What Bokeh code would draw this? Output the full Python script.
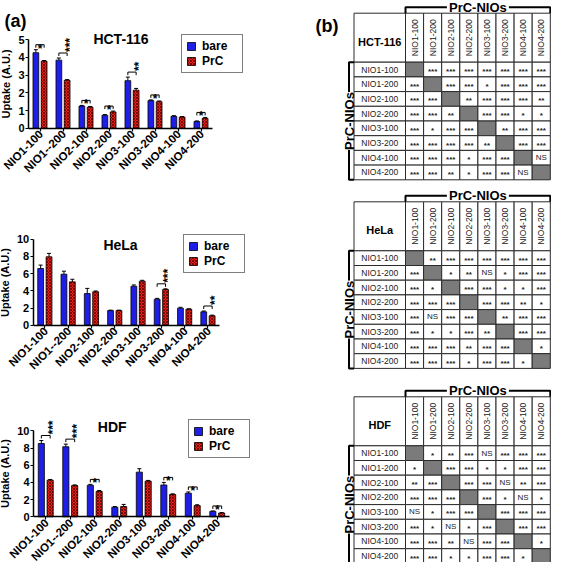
import math
from bokeh.plotting import figure
from bokeh.layouts import row, column
from bokeh.models import (Range1d, FixedTicker, ColumnDataSource, Whisker, LinearAxis,
                          TeeHead, Label, Legend, LegendItem, CustomJSTickFormatter)
from bokeh.transform import dodge
from bokeh.core.properties import value
from bokeh.embed import file_html
from bokeh.resources import INLINE

FONT = "Liberation Sans"
BLUE = "#1e1ee6"
RED = "#e32219"

# ---------------- data ----------------
groups = ["NIO1-100", "NIO1-200", "NIO2-100", "NIO2-200",
          "NIO3-100", "NIO3-200", "NIO4-100", "NIO4-200"]
bar_labels = ["NIO1-100", "NIO1--200", "NIO2-100", "NIO2-200",
              "NIO3-100", "NIO3-200", "NIO4-100", "NIO4-200"]
series_names = ["bare", "PrC"]

hct_bare = [4.27, 3.85, 1.25, 0.73, 2.69, 1.56, 0.67, 0.38]
hct_prc = [3.79, 2.71, 1.19, 0.92, 2.15, 1.50, 0.63, 0.56]
hct_bare_err = [0.17, 0.12, 0.04, 0.04, 0.20, 0.04, 0.04, 0.03]
hct_prc_err = [0.04, 0.04, 0.04, 0.05, 0.10, 0.04, 0.03, 0.05]
hct_sig = ["*", "***", "*", "*", "**", "*", "", "*"]

hela_bare = [6.59, 5.93, 3.68, 1.70, 4.53, 3.02, 1.98, 1.55]
hela_prc = [7.95, 5.04, 3.88, 1.70, 5.12, 4.15, 1.86, 1.09]
hela_bare_err = [0.40, 0.35, 0.60, 0.05, 0.15, 0.10, 0.10, 0.10]
hela_prc_err = [0.40, 0.30, 0.10, 0.05, 0.10, 0.08, 0.05, 0.08]
hela_sig = ["", "", "", "", "", "***", "", "**"]

hdf_bare = [8.52, 8.15, 3.67, 1.11, 5.19, 3.70, 2.74, 0.63]
hdf_prc = [4.26, 3.63, 2.96, 1.19, 4.15, 2.59, 1.30, 0.44]
hdf_bare_err = [0.35, 0.30, 0.10, 0.08, 0.40, 0.30, 0.15, 0.05]
hdf_prc_err = [0.08, 0.08, 0.10, 0.25, 0.08, 0.08, 0.10, 0.05]
hdf_sig = ["***", "***", "*", "", "", "*", "*", "*"]

hct_matrix = [
    ["",    "***", "***", "***", "***", "***", "***", "***"],
    ["***", "",    "***", "***", "*",   "***", "***", "***"],
    ["***", "***", "",    "**",  "***", "***", "***", "**"],
    ["***", "***", "**",  "",    "***", "***", "*",   "*"],
    ["***", "*",   "***", "***", "",    "**",  "***", "***"],
    ["***", "***", "***", "***", "**",  "",    "***", "***"],
    ["***", "***", "***", "*",   "***", "***", "",    "NS"],
    ["***", "***", "**",  "*",   "***", "***", "NS",  ""],
]
hela_matrix = [
    ["",    "**",  "***", "***", "***", "***", "***", "***"],
    ["***", "",    "*",   "**",  "NS",  "*",   "***", "***"],
    ["***", "*",   "",    "***", "***", "*",   "*",   "***"],
    ["***", "***", "***", "",    "***", "***", "**",  "*"],
    ["***", "NS",  "***", "***", "",    "**",  "***", "***"],
    ["***", "*",   "*",   "***", "**",  "",    "***", "***"],
    ["***", "***", "***", "**",  "***", "***", "",    "*"],
    ["***", "***", "***", "*",   "***", "***", "*",   ""],
]
hdf_matrix = [
    ["",    "*",   "**",  "***", "NS",  "***", "***", "***"],
    ["*",   "",    "***", "***", "*",   "*",   "***", "***"],
    ["**",  "***", "",    "***", "***", "NS",  "**",  "***"],
    ["***", "***", "***", "",    "***", "*",   "NS",  "*"],
    ["NS",  "*",   "***", "***", "",    "***", "***", "***"],
    ["***", "*",   "NS",  "*",   "***", "",    "***", "***"],
    ["***", "***", "**",  "NS",  "***", "***", "",    "*"],
    ["***", "***", "*",   "*",   "***", "***", "*",   ""],
]


# ---------------- bar charts ----------------
def bar_chart(cell, bare, prc, bare_err, prc_err, sig, ymax, ystep,
              W, H, ax0, ay0, ux, uy, title_px, legend_loc, panel=None):
    n = len(bar_labels)
    p = figure(width=W, height=H,
               x_range=Range1d(-ax0 / ux, (W - ax0) / ux),
               y_range=Range1d(-(H - ay0) / uy, ay0 / uy),
               x_axis_type=None, y_axis_type=None, output_backend="svg",
               toolbar_location=None, min_border=0, title=None)
    p.outline_line_color = None
    p.grid.visible = False

    def px2x(px):
        return (px - ax0) / ux

    def px2y(py):
        return (ay0 - py) / uy

    centers = [i + 0.5 for i in range(n)]
    src = ColumnDataSource(dict(
        x=centers, bare=bare, prc=prc,
        bare_hi=[b + e for b, e in zip(bare, bare_err)],
        prc_hi=[b + e for b, e in zip(prc, prc_err)]))
    off = 0.18
    bw = 0.25
    rb = p.vbar(x=dodge("x", -off), top="bare", width=bw, source=src,
                fill_color=BLUE, line_color="black", line_width=0.8)
    rp = p.vbar(x=dodge("x", off), top="prc", width=bw, source=src,
                fill_color=RED, line_color="black", line_width=0.8,
                hatch_pattern="x", hatch_color="#6a0000", hatch_scale=3, hatch_weight=0.8)
    for key, o in (("bare", -off), ("prc", off)):
        p.add_layout(Whisker(source=src, base=dodge("x", o), lower=key,
                             upper=key + "_hi", line_color="black", line_width=1,
                             upper_head=TeeHead(size=4, line_width=1, line_color="black"),
                             lower_head=None, level="overlay"))

    # significance brackets
    upp = 1.0 / uy
    idx = [i for i, s in enumerate(sig) if s]
    yb = [max(bare[i] + bare_err[i], prc[i] + prc_err[i]) + 5 * upp for i in idx]
    bsrc = ColumnDataSource(dict(x=[centers[i] for i in idx], yb=yb,
                                 yt=[y - 3 * upp for y in yb], star=[sig[i] for i in idx]))
    kw = dict(source=bsrc, line_color="black", line_width=1)
    p.segment(x0=dodge("x", -off), y0="yb", x1=dodge("x", off), y1="yb", **kw)
    p.segment(x0=dodge("x", -off), y0="yb", x1=dodge("x", -off), y1="yt", **kw)
    p.segment(x0=dodge("x", off), y0="yb", x1=dodge("x", off), y1="yt", **kw)
    one = [k for k, i in enumerate(idx) if len(sig[i]) == 1]
    many = [k for k, i in enumerate(idx) if len(sig[i]) > 1]
    s1 = ColumnDataSource({k: [v[j] for j in one] for k, v in bsrc.data.items()})
    s2 = ColumnDataSource({k: [v[j] for j in many] for k, v in bsrc.data.items()})
    p.text(x="x", y="yb", text="star", source=s1, text_align="center",
           text_baseline="alphabetic", y_offset=4, text_font=value(FONT),
           text_font_style="bold", text_font_size="12px", text_color="black")
    p.text(x="x", y="yb", text="star", source=s2, text_align="left", angle=math.pi / 2,
           text_baseline="alphabetic", x_offset=7, y_offset=-1, text_font=value(FONT),
           text_font_style="bold", text_font_size="12px", text_color="black")

    # axes (fixed inside the frame)
    xaxis = LinearAxis(fixed_location=0, bounds=(0, n), ticker=FixedTicker(ticks=centers),
                       formatter=CustomJSTickFormatter(code="return '';"))
    yaxis = LinearAxis(fixed_location=0, bounds=(0, ymax),
                       ticker=FixedTicker(ticks=[ystep * k for k in range(int(round(ymax / ystep)) + 1)]))
    p.add_layout(xaxis, "below")
    p.add_layout(yaxis, "left")
    for ax in (xaxis, yaxis):
        ax.axis_line_width = 1.5
        ax.axis_line_color = "black"
        ax.major_tick_line_color = "black"
        ax.major_tick_line_width = 1.2
        ax.major_tick_in = 0
        ax.major_tick_out = 3
        ax.minor_tick_line_color = None
        ax.major_label_text_font = FONT
        ax.major_label_text_font_style = "bold"
        ax.major_label_text_color = "black"
    yaxis.major_label_text_font_size = "11px"
    yaxis.major_label_standoff = 1
    yaxis.axis_label = "Uptake (A.U.)"
    yaxis.axis_label_text_font = FONT
    yaxis.axis_label_text_font_style = "bold"
    yaxis.axis_label_text_font_size = "11px"
    yaxis.axis_label_text_color = "black"
    yaxis.axis_label_standoff = 3

    # category labels, rotated 45 degrees, ending at the tick
    lsrc = ColumnDataSource(dict(x=centers, y=[0] * n, lab=bar_labels))
    p.text(x="x", y="y", text="lab", source=lsrc, angle=math.pi / 4, text_align="right",
           text_baseline="middle", x_offset=1, y_offset=4, text_font=value(FONT),
           text_font_style="bold", text_font_size="11.5px", text_color="black")

    # title
    p.add_layout(Label(x=px2x(title_px[0]), y=px2y(title_px[1]), text=cell,
                       text_font=FONT, text_font_style="bold", text_font_size="14px",
                       text_align="center", text_baseline="middle", text_color="black"))
    if panel:
        p.add_layout(Label(x=px2x(panel[0]), y=px2y(panel[1]), text=panel[2],
                           text_font=FONT, text_font_style="bold", text_font_size="18px",
                           text_align="center", text_baseline="middle", text_color="black"))

    legend = Legend(items=[LegendItem(label=series_names[0], renderers=[rb]),
                           LegendItem(label=series_names[1], renderers=[rp])],
                    location=legend_loc, border_line_color="black", border_line_width=1.5,
                    padding=4, spacing=1, margin=0, glyph_width=10, glyph_height=10,
                    label_standoff=6, label_text_font=FONT, label_text_font_style="bold",
                    label_text_font_size="12px", label_height=12, label_width=36,
                    label_text_color="black", background_fill_alpha=1.0)
    p.add_layout(legend)
    return p


f1 = bar_chart("HCT-116", hct_bare, hct_prc, hct_bare_err, hct_prc_err, hct_sig, 5, 1,
               W=290, H=182, ax0=28, ay0=127.7, ux=23.0, uy=17.68, title_px=(120.5, 38.7),
               legend_loc=(181, 109), panel=(15, 20, "(a)"))
f2 = bar_chart("HeLa", hela_bare, hela_prc, hela_bare_err, hela_prc_err, hela_sig, 10, 2,
               W=290, H=200, ax0=32.7, ay0=142.7, ux=23.3, uy=8.6, title_px=(120, 62),
               legend_loc=(183, 109))
f3 = bar_chart("HDF", hdf_bare, hdf_prc, hdf_bare_err, hdf_prc_err, hdf_sig, 10, 2,
               W=290, H=180, ax0=33, ay0=134.3, ux=24.5, uy=8.6, title_px=(111.7, 44),
               legend_loc=(188, 104))


# ---------------- significance tables ----------------
def table_fig(cell, matrix, H, y0, panel=False):
    W = 261
    p = figure(width=W, height=H, x_range=Range1d(0, W), y_range=Range1d(H, 0),
               x_axis_type=None, y_axis_type=None, output_backend="svg",
               toolbar_location=None, min_border=0, title=None)
    p.outline_line_color = None
    p.grid.visible = False
    n = len(groups)
    xL, xC, cw = 63.5, 115.0, 18.1
    hh, rh = 49.0, 14.7
    yH0 = y0
    yH1 = y0 + hh
    xR = xC + n * cw
    yBot = yH1 + n * rh

    L, R, T, B, F = [], [], [], [], []

    def add(l, r, t, b, f):
        L.append(l); R.append(r); T.append(t); B.append(b); F.append(f)

    add(xL, xC, yH0, yH1, "white")
    for j in range(n):
        add(xC + j * cw, xC + (j + 1) * cw, yH0, yH1, "white")
    for i in range(n):
        add(xL, xC, yH1 + i * rh, yH1 + (i + 1) * rh, "white")
        for j in range(n):
            add(xC + j * cw, xC + (j + 1) * cw, yH1 + i * rh, yH1 + (i + 1) * rh,
                "#7b7b7b" if i == j else "white")
    p.quad(left=L, right=R, top=T, bottom=B, fill_color=F, line_color="#2a2a2a", line_width=1)

    p.text(x=[(xL + xC) / 2], y=[(yH0 + yH1) / 2 + 4], text=[cell], text_align="center",
           text_baseline="middle", text_font=value(FONT), text_font_style="bold",
           text_font_size="11px", text_color="black")
    p.text(x=[xC + (j + 0.5) * cw for j in range(n)], y=[(yH0 + yH1) / 2] * n, text=groups,
           angle=math.pi / 2, text_align="center", text_baseline="middle",
           text_font=value(FONT), text_font_size="8.5px", text_color="#222222")
    p.text(x=[(xL + xC) / 2] * n, y=[yH1 + (i + 0.5) * rh for i in range(n)], text=groups,
           text_align="center", text_baseline="middle", text_font=value(FONT),
           text_font_size="8.5px", text_color="#222222")
    sx, sy, st, nx, ny, nt = [], [], [], [], [], []
    for i in range(n):
        for j in range(n):
            v = matrix[i][j]
            if not v:
                continue
            cx = xC + (j + 0.5) * cw
            cy = yH1 + (i + 0.5) * rh
            if v == "NS":
                nx.append(cx); ny.append(cy); nt.append(v)
            else:
                sx.append(cx); sy.append(cy); st.append(v)
    p.text(x=sx, y=sy, text=st, text_align="center", text_baseline="middle", y_offset=2,
           text_font=value(FONT), text_font_style="bold", text_font_size="8px",
           text_color="#222222")
    p.text(x=nx, y=ny, text=nt, text_align="center", text_baseline="middle",
           text_font=value(FONT), text_font_size="8px", text_color="#222222")

    yB = yH0 - 6
    xm = (xC + xR) / 2
    p.multi_line(xs=[[xC, xC, xm - 31], [xm + 31, xR, xR]], ys=[[yH0, yB, yB], [yB, yB, yH0]],
                 line_color="black", line_width=2)
    p.text(x=[xm], y=[yB], text=["PrC-NIOs"], text_align="center", text_baseline="middle",
           text_font=value(FONT), text_font_style="bold", text_font_size="13px",
           text_color="black")
    xB = xL - 5
    ym = (yH1 + yBot) / 2
    p.multi_line(xs=[[xL, xB, xB], [xB, xB, xL]], ys=[[yH1, yH1, ym - 29], [ym + 29, yBot, yBot]],
                 line_color="black", line_width=2)
    p.text(x=[xB], y=[ym], text=["PrC-NIOs"], angle=math.pi / 2, text_align="center",
           text_baseline="middle", text_font=value(FONT), text_font_style="bold",
           text_font_size="13px", text_color="black")
    if panel:
        p.text(x=[36.5], y=[25.5], text=["(b)"], text_align="center", text_baseline="middle",
               text_font=value(FONT), text_font_style="bold", text_font_size="18px",
               text_color="black")
    return p


t1 = table_fig("HCT-116", hct_matrix, 186, 12.7, panel=True)
t2 = table_fig("HeLa", hela_matrix, 190, 15.3)
t3 = table_fig("HDF", hdf_matrix, 186, 20.3)

layout = row(column(f1, f2, f3), column(t1, t2, t3))
open("out.html", "w").write(file_html(layout, INLINE))
